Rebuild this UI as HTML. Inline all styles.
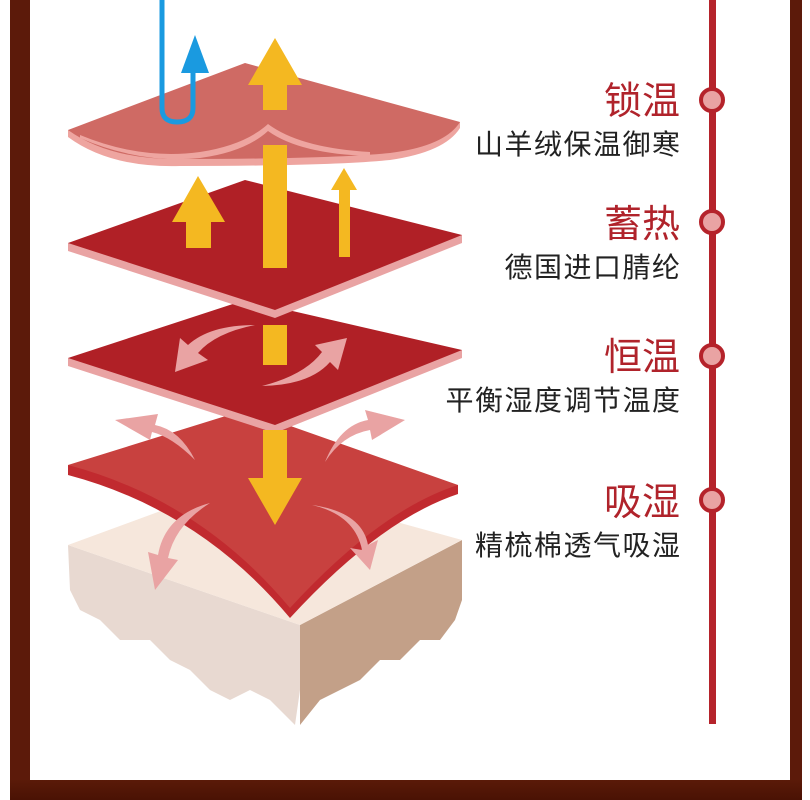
<!DOCTYPE html>
<html><head><meta charset="utf-8"><style>
html,body{margin:0;padding:0;width:810px;height:800px;overflow:hidden;background:#fff;}
.t{position:absolute;right:130px;font-family:"Liberation Sans","Noto Sans CJK SC",sans-serif;text-align:right;white-space:nowrap;}
.h{color:#b0232b;font-size:38px;line-height:40px;}
.s{color:#222;font-size:28px;line-height:30px;letter-spacing:1.5px;margin-right:-1.5px;}
</style></head><body>
<svg width="810" height="800" style="position:absolute;left:0;top:0">
<defs><linearGradient id="bg" x1="0" y1="0" x2="0" y2="1"><stop offset="0" stop-color="#5a1a08"/><stop offset="1" stop-color="#4a1204"/></linearGradient></defs>
<rect x="10" y="0" width="20" height="800" fill="#5c1a0a"/>
<rect x="790" y="0" width="12" height="800" fill="#5c1a0a"/>
<rect x="10" y="780" width="792" height="20" fill="url(#bg)"/>
<!-- timeline -->
<rect x="709" y="0" width="7" height="724" fill="#b5232b"/>
<g fill="#e9a3a3" stroke="#b5232b" stroke-width="4">
<circle cx="712" cy="100" r="11"/><circle cx="712" cy="222" r="11"/><circle cx="712" cy="356" r="11"/><circle cx="712" cy="500" r="11"/></g>
<!-- cube -->
<path d="M68,545 L300,625 L300,690 L295,725 L285,715 L270,700 L250,690 L230,700 L210,690 L190,670 L170,660 L150,640 L120,640 L100,620 L80,610 L70,590 Z" fill="#e8d9d1"/>
<path d="M300,625 L462,540 L462,600 L455,620 L440,640 L420,640 L400,660 L380,660 L360,680 L340,690 L320,700 L300,725 Z" fill="#c3a088"/>
<path d="M68,545 L245,480 L462,540 L300,625 Z" fill="#f6e7dc"/>
<!-- layer 4 curved -->
<path d="M68,465 L68,475 Q200,510 290,618 Q380,520 458,494 L458,485 Z" fill="#c12a2f"/>
<path d="M68,465 L245,410 L458,485 Q380,510 290,608 Q200,500 68,465 Z" fill="#c8413f"/>
<!-- layer 3 -->
<path d="M68,358 L68,366 L275,433 L462,358 L462,350 Z" fill="#e9a3a3"/>
<path d="M68,358 L245,300 L462,350 L275,425 Z" fill="#b02026"/>
<!-- layer 2 -->
<path d="M68,243 L68,251 L275,318 L462,243 L462,235 Z" fill="#e9a3a3"/>
<path d="M68,243 L245,180 L462,235 L275,310 Z" fill="#b02026"/>
<!-- layer 1 -->
<path d="M68,130 L68,137 Q110,168 180,166 Q330,166 390,160 Q445,152 460,128 L460,122 Z" fill="#eea5a0"/>
<path d="M68,130 L245,63 L460,122 Q445,146 390,153 Q330,159 180,159 Q110,160 68,130 Z" fill="#cf6a64"/>
<path d="M80,135 Q140,160 200,152 Q245,145 268,124 Q300,148 370,152 L370,156 Q300,154 268,131 Q245,152 200,158 Q140,164 80,138 Z" fill="#eea5a0"/>
<!-- blue U -->
<path d="M162,0 L162,108 Q162,122 177,122 Q193,122 193,108 L193,68" fill="none" stroke="#1a9ae0" stroke-width="5"/>
<polygon points="195,35 181,73 209,73" fill="#1a9ae0"/>
<!-- yellow arrows -->
<g fill="#f4b821">
<polygon points="275,38 248,85 263,85 263,110 287,110 287,85 302,85"/>
<rect x="263" y="145" width="24" height="123"/>
<rect x="263" y="325" width="24" height="40"/>
<polygon points="263,430 287,430 287,478 302,478 275,525 248,478 263,478"/>
<polygon points="198,176 172,222 186,222 186,248 211,248 211,222 225,222"/>
<polygon points="344,168 331,190 339,190 339,257 350,257 350,190 357,190"/>
</g>
<!-- pink curved arrows -->
<g fill="#e9a3a3">
<path d="M255,325 Q210,325 188,345 L180,338 L175,372 L208,360 L198,353 Q215,333 255,325 Z"/>
<path d="M262,386 Q310,385 330,362 L338,370 L347,338 L315,345 L322,352 Q305,375 262,386 Z"/>
<path d="M195,460 Q180,430 155,425 L158,414 L115,420 L150,440 L152,432 Q172,437 195,460 Z"/>
<path d="M325,462 Q342,435 370,430 L372,440 L405,420 L365,410 L368,420 Q340,425 325,462 Z"/>
<path d="M210,503 Q165,515 158,555 L148,552 L155,590 L178,560 L168,558 Q175,525 210,503 Z"/>
<path d="M312,505 Q355,515 362,550 L350,548 L370,570 L378,540 L368,545 Q362,512 312,505 Z"/>
</g>
</svg>
<div class="t h" style="top:82px">锁温</div>
<div class="t s" style="top:130px">山羊绒保温御寒</div>
<div class="t h" style="top:205px">蓄热</div>
<div class="t s" style="top:253px">德国进口腈纶</div>
<div class="t h" style="top:338px">恒温</div>
<div class="t s" style="top:386px">平衡湿度调节温度</div>
<div class="t h" style="top:483px">吸湿</div>
<div class="t s" style="top:531px">精梳棉透气吸湿</div>
</body></html>
